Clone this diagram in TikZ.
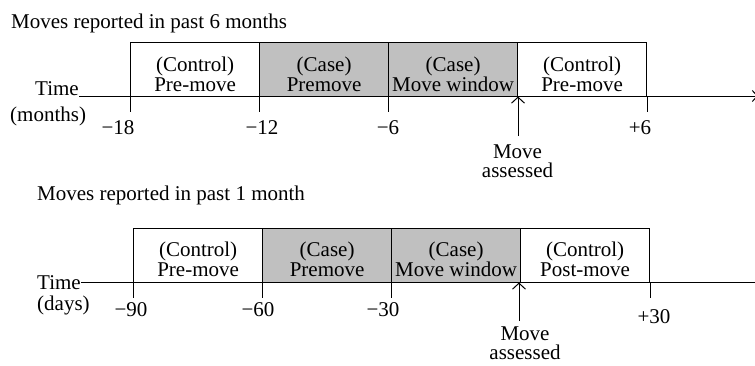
\documentclass[tikz,border=0pt]{standalone}
\usepackage{fontspec}
\setmainfont{Liberation Serif}
\usetikzlibrary{arrows.meta}
\definecolor{casegray}{RGB}{192,192,192}
\begin{document}
\begin{tikzpicture}[x=1pt,y=-1pt,
  every node/.style={inner sep=0pt, font=\fontsize{21}{20}\selectfont},
  box/.style={draw, line width=1.2pt, minimum width=129pt, minimum height=54pt, anchor=north west},
  casebox/.style={box, fill=casegray},
  ctlbox/.style={box, fill=white},
  boxtext/.style={align=center},
  ticklab/.style={anchor=base},
  lab/.style={anchor=base west},
  axis/.style={line width=1pt},
  tick/.style={line width=1pt},
  marker/.style={line width=1pt, -{Straight Barb[length=6pt,width=13pt,line width=1pt]}},
  axarrow/.style={line width=1pt, -{Straight Barb[length=5pt,width=11pt,line width=1pt]}}
]
\fill[white] (0,0) rectangle (755,365);
\useasboundingbox (0,0) rectangle (755,365);

% ---------------- top panel ----------------
\node[lab] (title1) at (11,28) {Moves reported in past 6 months};
\coordinate (ax1s) at (79,96);
\coordinate (ax1e) at (758,96);
\draw[axarrow] (ax1s) -- (ax1e);
\node[lab] (time1) at (35,95) {Time};
\node[lab] (unit1) at (10,121) {(months)};

\node[ctlbox]  (a1) at (130,42) {};
\node[casebox] (a2) at (259,42) {};
\node[casebox] (a3) at (388,42) {};
\node[ctlbox]  (a4) at (517,42) {};

\node[boxtext] (ta1) at ([yshift=-4.5pt]a1.center) {(Control)\\Pre-move};
\node[boxtext] (ta2) at ([yshift=-4.5pt]a2.center) {(Case)\\Premove};
\node[boxtext] (ta3) at ([yshift=-4.5pt]a3.center) {(Case)\\Move window};
\node[boxtext] (ta4) at ([yshift=-4.5pt]a4.center) {(Control)\\Pre-move};

\draw[tick] (a1.south west) -- ++(0,15);
\draw[tick] (a2.south west) -- ++(0,15);
\draw[tick] (a3.south west) -- ++(0,15);
\draw[tick] (a4.south east) -- ++(0,15);

\node[ticklab] (l11) at (118,134) {−18};
\node[ticklab] (l12) at (262,134) {−12};
\node[ticklab] (l13) at (388,134) {−6};
\node[ticklab] (l14) at (640,134) {+6};

\coordinate (m1s) at (518,136);
\coordinate (m1e) at (518,96.5);
\draw[marker] (m1s) -- (m1e);
\node[anchor=north, align=center, font=\fontsize{21}{19}\selectfont] (ma1) at (517.5,145) {Move\\assessed};

% ---------------- bottom panel ----------------
\node[lab] (title2) at (37,200) {Moves reported in past 1 month};
\coordinate (ax2s) at (81,282);
\coordinate (ax2e) at (755,282);
\draw[axis] (ax2s) -- (ax2e);
\node[lab] (time2) at (37,289) {Time};
\node[lab] (unit2) at (37,310) {(days)};

\node[ctlbox]  (b1) at (133,227.5) {};
\node[casebox] (b2) at (262,227.5) {};
\node[casebox] (b3) at (391,227.5) {};
\node[ctlbox]  (b4) at (520,227.5) {};

\node[boxtext] (tb1) at ([yshift=-4.5pt]b1.center) {(Control)\\Pre-move};
\node[boxtext] (tb2) at ([yshift=-4.5pt]b2.center) {(Case)\\Premove};
\node[boxtext] (tb3) at ([yshift=-4.5pt]b3.center) {(Case)\\Move window};
\node[boxtext] (tb4) at ([yshift=-4.5pt]b4.center) {(Control)\\Post-move};

\draw[tick] (b1.south west) -- ++(0,15);
\draw[tick] (b2.south west) -- ++(0,15);
\draw[tick] (b3.south west) -- ++(0,15);
\draw[tick] (b4.south east) -- ++(0,15);

\node[ticklab] (l21) at (131,316) {−90};
\node[ticklab] (l22) at (258,316) {−60};
\node[ticklab] (l23) at (383,316) {−30};
\node[ticklab] (l24) at (654,323) {+30};

\coordinate (m2s) at (519,321);
\coordinate (m2e) at (519,282.5);
\draw[marker] (m2s) -- (m2e);
\node[anchor=north, align=center, font=\fontsize{21}{19}\selectfont] (ma2) at (525,327) {Move\\assessed};
\end{tikzpicture}
\end{document}
